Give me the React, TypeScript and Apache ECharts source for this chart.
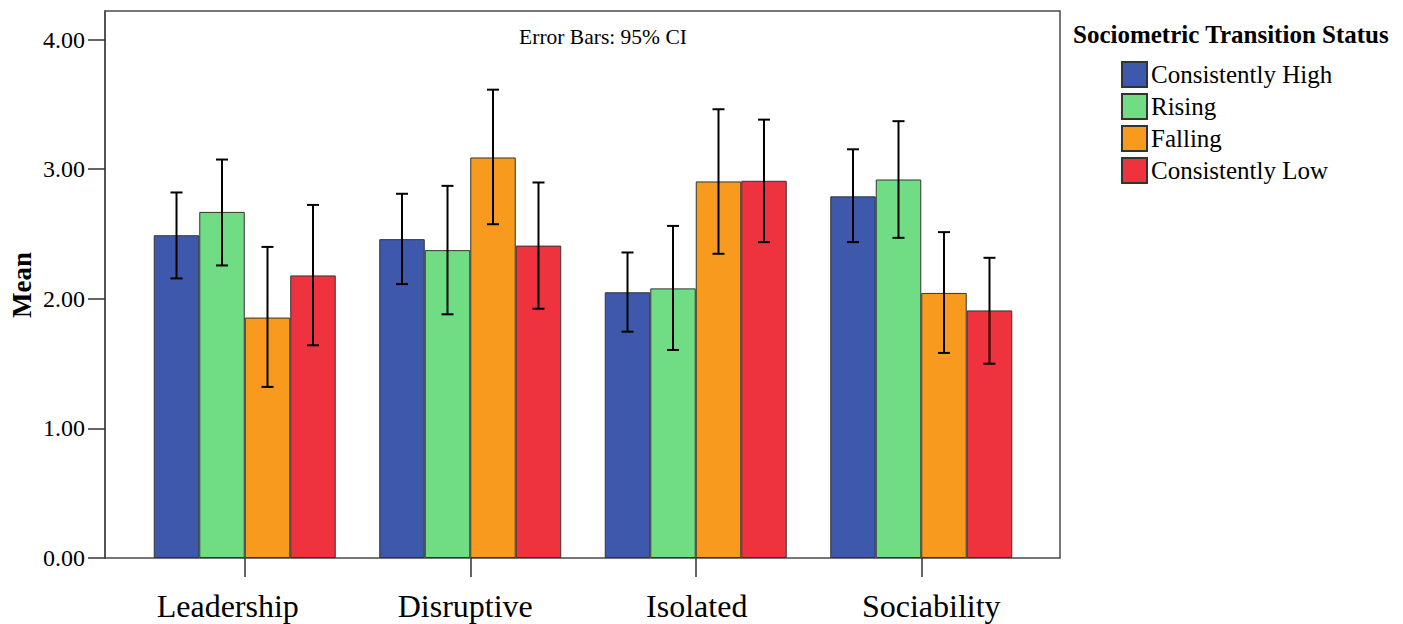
import React, { useEffect, useRef } from "react";
import * as echarts from "echarts";

const categories = ["Leadership", "Disruptive", "Isolated", "Sociability"];
const seriesNames = ["Consistently High", "Rising", "Falling", "Consistently Low"];
const colors = ["#3E58AC", "#70DD85", "#F89A1E", "#EF333E"];

const meanHigh = [2.49, 2.46, 2.05, 2.79];
const meanRising = [2.67, 2.375, 2.08, 2.92];
const meanFalling = [1.855, 3.09, 2.905, 2.045];
const meanLow = [2.18, 2.41, 2.91, 1.91];

const lowHigh = [2.157, 2.113, 1.746, 2.437];
const upHigh = [2.82, 2.81, 2.357, 3.153];
const lowRising = [2.257, 1.88, 1.605, 2.47];
const upRising = [3.074, 2.871, 2.562, 3.37];
const lowFalling = [1.32, 2.575, 2.347, 1.582];
const upFalling = [2.4, 3.613, 3.462, 2.514];
const lowLow = [1.641, 1.923, 2.437, 1.499];
const upLow = [2.724, 2.897, 3.382, 2.316];

const yTicks = [0, 1, 2, 3, 4];

const means = [meanHigh, meanRising, meanFalling, meanLow];
const lows = [lowHigh, lowRising, lowFalling, lowLow];
const ups = [upHigh, upRising, upFalling, upLow];

const CAT_GAP = 0.193;
const FONT = "Liberation Serif";

export default function App() {
  const ref = useRef<HTMLDivElement>(null);
  useEffect(() => {
    if (!ref.current) return;
    const chart = echarts.init(ref.current, undefined, { renderer: "svg" });
    const barSeries = seriesNames.map((name, i) => ({
      name,
      type: "bar",
      xAxisIndex: 0,
      yAxisIndex: 0,
      data: means[i],
      barGap: "0%",
      barCategoryGap: CAT_GAP * 100 + "%",
      itemStyle: { color: colors[i], borderColor: "#333", borderWidth: 1 },
      z: 2,
    }));
    const errSeries = seriesNames.map((name, i) => ({
      name: name + " CI",
      type: "custom",
      xAxisIndex: 0,
      yAxisIndex: 0,
      z: 5,
      data: categories.map((_, c) => [c, lows[i][c], ups[i][c]]),
      renderItem: (params: any, api: any) => {
        const c = api.value(0);
        const lo = api.coord([c, api.value(1)]);
        const hi = api.coord([c, api.value(2)]);
        const band = api.size([1, 0])[0];
        const bw = (band * (1 - CAT_GAP)) / 4;
        const x = lo[0] + (i - 1.5) * bw;
        const cap = 6;
        const st = { stroke: "#000", lineWidth: 2 };
        return {
          type: "group",
          children: [
            { type: "line", shape: { x1: x, y1: lo[1], x2: x, y2: hi[1] }, style: st },
            { type: "line", shape: { x1: x - cap, y1: lo[1], x2: x + cap, y2: lo[1] }, style: st },
            { type: "line", shape: { x1: x - cap, y1: hi[1], x2: x + cap, y2: hi[1] }, style: st },
          ],
        };
      },
    }));
    const labelBase = { fontSize: 32, fontFamily: FONT, color: "#000" };
    const option: any = {
      animation: false,
      backgroundColor: "#fff",
      textStyle: { fontFamily: FONT },
      grid: [
        { left: 132, right: 369, top: 11, bottom: 66, show: false },
        { left: 105, right: 343, top: 11, bottom: 66, show: true, borderColor: "#4a4a4a", borderWidth: 1.5, backgroundColor: "transparent", z: 0 },
      ],
      xAxis: [
        {
          type: "category",
          gridIndex: 0,
          data: categories,
          axisLine: { show: false },
          axisTick: { show: true, interval: 0, alignWithLabel: true, length: 19, lineStyle: { color: "#333", width: 1.5 } },
          axisLabel: {
            interval: 0,
            hideOverlap: false,
            color: "#000",
            fontSize: 32,
            fontFamily: FONT,
            margin: 32,
            formatter: (v: string, idx: number) => "{c" + idx + "|" + v + "}",
            rich: {
              c0: { ...labelBase, padding: [0, 34, 0, 0] },
              c1: { ...labelBase, padding: [0, 10, 0, 0] },
              c2: { ...labelBase, padding: [0, 0, 0, 2] },
              c3: { ...labelBase, padding: [0, 0, 0, 20] },
            },
          },
        },
        { type: "value", gridIndex: 1, show: false },
      ],
      yAxis: [
        {
          type: "value",
          gridIndex: 0,
          min: 0,
          max: 4.22,
          interval: 1,
          offset: 27,
          axisLine: { show: true, lineStyle: { color: "#4a4a4a", width: 1.5 } },
          axisTick: {
            show: true,
            length: 17,
            lineStyle: { color: "#333", width: 1.5 },
            customValues: yTicks,
          },
          axisLabel: {
            color: "#000",
            fontSize: 24,
            fontFamily: FONT,
            margin: 20,
            customValues: yTicks,
            formatter: (v: number) => v.toFixed(2),
          },
          splitLine: { show: false },
        },
        { type: "value", gridIndex: 1, show: false },
      ],
      legend: {
        data: seriesNames,
        orient: "vertical",
        left: 1121,
        top: 61,
        itemWidth: 25,
        itemHeight: 25,
        itemGap: 5,
        icon: "rect",
        padding: 0,
        textStyle: { fontSize: 25, fontFamily: FONT, color: "#000", padding: [0, 0, 0, -1] },
      },
      graphic: [
        {
          type: "text",
          left: 1073,
          top: 22,
          style: { text: "Sociometric Transition Status", fontSize: 25, fontWeight: "bold", fontFamily: FONT, fill: "#000" },
        },
        {
          type: "text",
          x: 603,
          y: 37,
          style: { text: "Error Bars: 95% CI", fontSize: 21.5, fontFamily: FONT, fill: "#000", align: "center", verticalAlign: "middle" },
        },
        {
          type: "text",
          x: 22,
          y: 285,
          rotation: Math.PI / 2,
          style: { text: "Mean", fontSize: 27, fontWeight: "bold", fontFamily: FONT, fill: "#000", align: "center", verticalAlign: "middle" },
        },
      ],
      series: [...barSeries, ...errSeries],
    };
    chart.setOption(option);
    return () => chart.dispose();
  }, []);
  return (
    <div
      ref={ref}
      style={{ position: "fixed", left: 0, top: 0, width: 1403, height: 624, background: "#fff" }}
    />
  );
}
